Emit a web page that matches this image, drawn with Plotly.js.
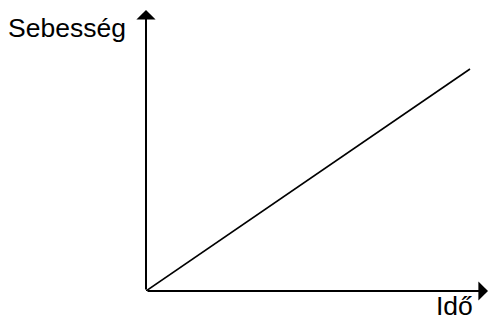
<!DOCTYPE html>
<html>
<head>
<meta charset="utf-8">
<script src="https://cdn.plot.ly/plotly-3.0.1.min.js"></script>
<style>html,body{margin:0;padding:0;background:#fff;}#chart{width:489px;height:320px;}</style>
</head>
<body>
<div id="chart"></div>
<script>
// Data
const time = [0, 10];
const speed = [0, 10];
const xLabel = 'Idő';
const yLabel = 'Sebesség';

const W = 489, H = 320;
const L = 146, B = 29;
const plotW = W - L, plotH = H - B;

const trace = {
  x: time, y: speed, type: 'scatter', mode: 'lines',
  line: {color: '#000', width: 1.6}, hoverinfo: 'skip'
};

const font = {family: 'Liberation Sans, Arial, sans-serif', size: 26.5, color: '#000'};

const layout = {
  width: W, height: H,
  margin: {l: L, r: 0, t: 0, b: B, pad: 0},
  paper_bgcolor: '#fff', plot_bgcolor: '#fff',
  showlegend: false,
  xaxis: {range: [0, 10 * plotW / 324], visible: false, fixedrange: true},
  yaxis: {range: [0, 10 * plotH / 222], visible: false, fixedrange: true},
  annotations: [
    // y axis arrow
    {xref: 'paper', yref: 'paper', x: 0, y: (plotH - 10) / plotH, text: '',
     showarrow: true, ax: 0, ay: plotH - 10,
     arrowhead: 1, arrowsize: 1.6, arrowwidth: 2, arrowcolor: '#000', standoff: 0, startstandoff: 0},
    // x axis arrow
    {xref: 'paper', yref: 'paper', x: 1, y: 0, text: '',
     showarrow: true, ax: -plotW, ay: 0,
     arrowhead: 1, arrowsize: 1.6, arrowwidth: 2, arrowcolor: '#000', standoff: 0, startstandoff: 0},
    {xref: 'paper', yref: 'paper', x: (8 - L) / plotW, y: (plotH - 28) / plotH,
     xanchor: 'left', yanchor: 'middle', text: yLabel, showarrow: false, font: font,
     borderpad: 0, borderwidth: 0},
    {xref: 'paper', yref: 'paper', x: (436 - L) / plotW, y: -15 / plotH,
     xanchor: 'left', yanchor: 'middle', text: xLabel, showarrow: false, font: font,
     borderpad: 0, borderwidth: 0}
  ]
};

Plotly.newPlot('chart', [trace], layout, {displayModeBar: false, staticPlot: true});
</script>
</body>
</html>
